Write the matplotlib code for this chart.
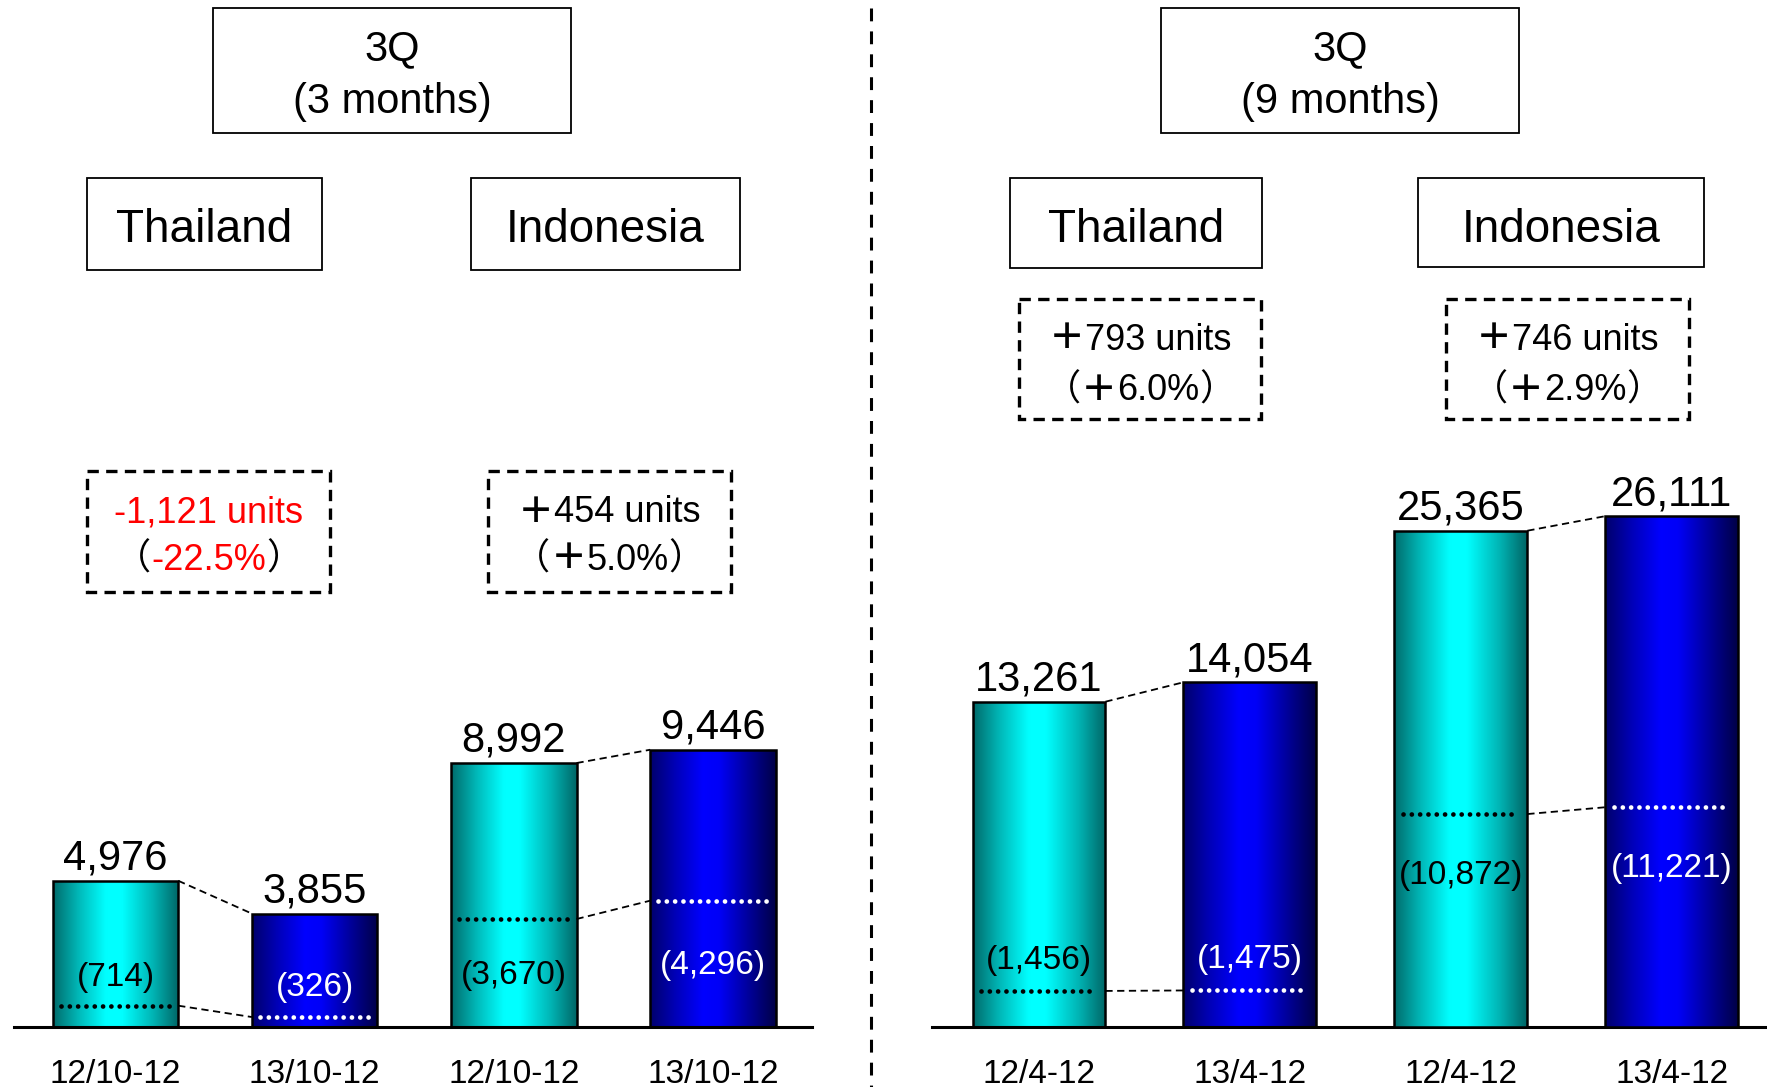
import numpy as np
import matplotlib
matplotlib.use("Agg")
import matplotlib.pyplot as plt
from matplotlib.patches import Rectangle

plt.rcParams['font.family'] = ['Liberation Sans', 'Noto Sans CJK JP', 'DejaVu Sans']

# ---- data ----
periods_3m = ["12/10-12", "13/10-12", "12/10-12", "13/10-12"]
periods_9m = ["12/4-12", "13/4-12", "12/4-12", "13/4-12"]

thai_3m = [4976, 3855]
thai_3m_inner = [714, 326]
indo_3m = [8992, 9446]
indo_3m_inner = [3670, 4296]

thai_9m = [13261, 14054]
thai_9m_inner = [1456, 1475]
indo_9m = [25365, 26111]
indo_9m_inner = [10872, 11221]

change_3m = [("-1,121 units", "-22.5%"), ("＋454 units", "＋5.0%")]
change_9m = [("＋793 units", "＋6.0%"), ("＋746 units", "＋2.9%")]

# ---- style ----
W, H = 1767, 1087
BAR_W = 0.63
FS_BOX = 26
fig = plt.figure(figsize=(W / 100, H / 100), dpi=100)

xs = np.linspace(0, 1, 256)
knots = [0, 0.2, 0.42, 0.55, 0.8, 1]


def gradient(kind):
    img = np.zeros((1, len(xs), 3))
    if kind == "cyan":
        g = np.interp(xs, knots, [0.42, 0.72, 1.0, 1.0, 0.70, 0.40])
        img[0, :, 1] = g
        img[0, :, 2] = g
    else:
        b = np.interp(xs, knots, [0.42, 0.72, 1.0, 0.97, 0.58, 0.28])
        img[0, :, 2] = b
    return img


CYAN = gradient("cyan")
BLUE = gradient("blue")


def draw_pair(ax, xpos, values, inner, label_offsets):
    kinds = [(CYAN, "black"), (BLUE, "white")]
    for i, (x, v, iv, off) in enumerate(zip(xpos, values, inner, label_offsets)):
        img, tc = kinds[i]
        x0, x1 = x - BAR_W / 2, x + BAR_W / 2
        ax.imshow(img, extent=(x0, x1, 0, v), aspect='auto',
                  interpolation='bicubic', zorder=1)
        ax.bar(x, v, width=BAR_W, fill=False, edgecolor='black', lw=1.8, zorder=2)
        ax.annotate(f"{v:,}", xy=(x, v), xytext=(0, 8), textcoords='offset points',
                    ha='center', va='baseline', fontsize=30, color='black', zorder=5)
        ax.plot([x0 + 0.04, x1 - 0.04], [iv, iv], color=tc, lw=3.4,
                linestyle=(0, (0.01, 1.75)), dash_capstyle='round', zorder=3)
        ax.annotate(f"({iv:,})", xy=(x, iv), xytext=(0, off), textcoords='offset points',
                    ha='center', va='center', fontsize=24, color=tc, zorder=5)
    # dashed connectors between the two bars
    xa, xb = xpos[0] + BAR_W / 2, xpos[1] - BAR_W / 2
    ax.plot([xa, xb], values, color='black', lw=1.3, linestyle=(0, (4, 2.5)), zorder=3)
    ax.plot([xa, xb], inner, color='black', lw=1.3, linestyle=(0, (4, 2.5)), zorder=3)


def style_axes(ax, xlim, ylim, labels=None):
    ax.set_xlim(*xlim)
    ax.set_ylim(*ylim)
    for s in ("top", "left", "right"):
        ax.spines[s].set_visible(False)
    ax.set_yticks([])
    if labels is not None:
        ax.spines["bottom"].set_linewidth(2.2)
        ax.set_xticks(range(4))
        ax.set_xticklabels(labels, fontsize=24)
        ax.tick_params(axis='x', length=0, pad=23)
    else:
        ax.spines["bottom"].set_visible(False)
    ax.patch.set_visible(False)


# ---- 3 months panel ----
ax_l = fig.add_axes([13.5 / W, 60.4 / H, 798 / W, 1026.6 / H])
draw_pair(ax_l, [0, 1], thai_3m, thai_3m_inner, [20, 21])
draw_pair(ax_l, [2, 3], indo_3m, indo_3m_inner, [-41, -47])
style_axes(ax_l, (-0.512, 3.495), (0, 35025), periods_3m)

# ---- 9 months panel (Thailand and Indonesia on separate value scales) ----
ax_r = fig.add_axes([932 / W, 60.4 / H, 835 / W, 1026.6 / H])
ax_r2 = ax_r.twinx()
draw_pair(ax_r, [0, 1], thai_9m, thai_9m_inner, [22, 22])
draw_pair(ax_r2, [2, 3], indo_9m, indo_9m_inner, [-44, -44])
style_axes(ax_r, (-0.507, 3.451), (0, 41902), periods_9m)
style_axes(ax_r2, (-0.507, 3.451), (0, 52512))
ax_r2.spines["bottom"].set_visible(False)

# ---- headers, boxes and divider ----
ov = fig.add_axes([0, 0, 1, 1], zorder=10)
ov.set_xlim(0, W)
ov.set_ylim(H, 0)
ov.axis('off')

ov.plot([871, 871], [8, H], color='black', lw=2.2, linestyle=(0, (4.2, 3.3)))


def solid_box(x0, x1, y0, y1, lines, size, line_y):
    ov.add_patch(Rectangle((x0, y0), x1 - x0, y1 - y0, fill=False,
                           edgecolor='black', lw=1.3))
    for t, y in zip(lines, line_y):
        ov.text((x0 + x1) / 2, y, t, ha='center', va='center', fontsize=size)


solid_box(213, 571, 8, 133, ["3Q", "(3 months)"], 30, [49, 102])
solid_box(1161, 1519, 8, 133, ["3Q", "(9 months)"], 30, [49, 102])
solid_box(87, 322, 178, 270, ["Thailand"], 33, [230])
solid_box(471, 740, 178, 270, ["Indonesia"], 33, [230])
solid_box(1010, 1262, 178, 268, ["Thailand"], 33, [230])
solid_box(1418, 1704, 178, 267, ["Indonesia"], 33, [230])


def chain_left(anchor, s, bold=False, color='black'):
    return ov.annotate(s, xy=(0, 0.5), xycoords=anchor, ha='right', va='center',
                       fontsize=FS_BOX, color=color,
                       fontweight='bold' if bold else 'normal')


def dashed_box(x0, x1, y0, y1, units, pct, ly):
    ov.add_patch(Rectangle((x0, y0), x1 - x0, y1 - y0, fill=False,
                           edgecolor='black', lw=2.4, linestyle=(0, (3.4, 2.2))))
    cx = (x0 + x1) / 2
    plus = units.startswith("＋")
    col = 'black' if plus else 'red'
    shift = FS_BOX / 2 if plus else 0
    # amount line
    body = units[1:] if plus else units
    t1 = ov.annotate(body, xy=(cx, ly[0]), xytext=(shift, 0), textcoords='offset points',
                     ha='center', va='center', fontsize=FS_BOX, color=col)
    if plus:
        chain_left(t1, "＋", bold=True)
    # percentage line
    pbody = pct[1:] if plus else pct
    t2 = ov.annotate(pbody, xy=(cx, ly[1]), xytext=(shift, 0), textcoords='offset points',
                     ha='center', va='center', fontsize=FS_BOX, color=col)
    left = chain_left(t2, "＋", bold=True) if plus else t2
    chain_left(left, "（")
    ov.annotate("）", xy=(1, 0.5), xycoords=t2, ha='left', va='center',
                fontsize=FS_BOX, color='black')


dashed_box(87, 330, 471, 592, *change_3m[0], [513, 560])
dashed_box(488, 731, 471, 592, *change_3m[1], [513, 560])
dashed_box(1019, 1261, 299, 419, *change_9m[0], [340, 391])
dashed_box(1446, 1689, 299, 419, *change_9m[1], [340, 391])

fig.savefig("out.png", dpi=100)
